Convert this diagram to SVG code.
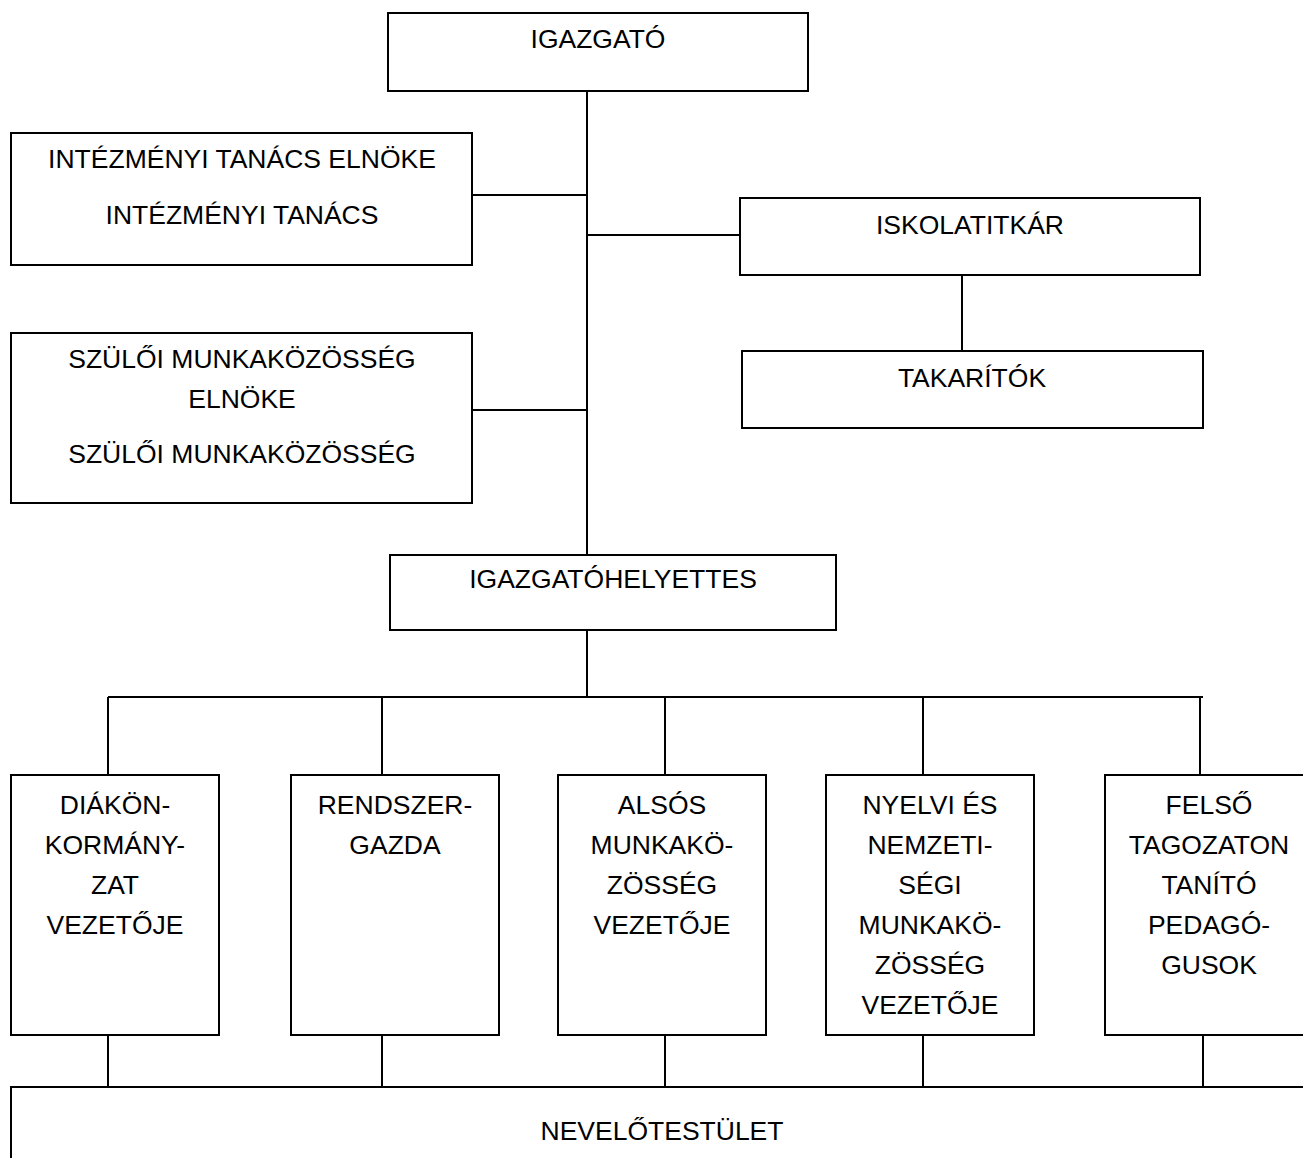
<svg xmlns="http://www.w3.org/2000/svg" width="1303" height="1158" viewBox="0 0 1303 1158">
<style>
  .box { fill: #ffffff; stroke: #000000; stroke-width: 2; }
  .ln { fill: none; stroke: #000000; stroke-width: 2; }
  text { font-family: "Liberation Sans", Arial, sans-serif; font-size: 26.5px; fill: #000000; text-anchor: middle; }
</style>
<rect x="0" y="0" width="1303" height="1158" fill="#ffffff"/>
<g id="connectors">
  <path class="ln" d="M587 91 V555"/>
  <path class="ln" d="M472 195 H587"/>
  <path class="ln" d="M587 235 H740"/>
  <path class="ln" d="M962 275 V351"/>
  <path class="ln" d="M472 410 H587"/>
  <path class="ln" d="M587 630 V697"/>
  <path class="ln" d="M108 697 H1203"/>
  <path class="ln" d="M108 697 V775 M382 697 V775 M665 697 V775 M923 697 V775 M1200 697 V775"/>
  <path class="ln" d="M108 1035 V1087 M382 1035 V1087 M665 1035 V1087 M923 1035 V1087 M1203 1035 V1087"/>
</g>
<g id="igazgato">
  <rect class="box" x="388" y="13" width="420" height="78"/>
  <text x="598" y="48">IGAZGATÓ</text>
</g>
<g id="intezmenyi-tanacs">
  <rect class="box" x="11" y="133" width="461" height="132"/>
  <text x="242" y="168">INTÉZMÉNYI TANÁCS ELNÖKE</text>
  <text x="242" y="224">INTÉZMÉNYI TANÁCS</text>
</g>
<g id="iskolatitkar">
  <rect class="box" x="740" y="198" width="460" height="77"/>
  <text x="970" y="234">ISKOLATITKÁR</text>
</g>
<g id="takaritok">
  <rect class="box" x="742" y="351" width="461" height="77"/>
  <text x="972" y="387">TAKARÍTÓK</text>
</g>
<g id="szuloi-munkakozosseg">
  <rect class="box" x="11" y="333" width="461" height="170"/>
  <text x="242" y="368">SZÜLŐI MUNKAKÖZÖSSÉG</text>
  <text x="242" y="408">ELNÖKE</text>
  <text x="242" y="463">SZÜLŐI MUNKAKÖZÖSSÉG</text>
</g>
<g id="igazgatohelyettes">
  <rect class="box" x="390" y="555" width="446" height="75"/>
  <text x="613" y="588">IGAZGATÓHELYETTES</text>
</g>
<g id="diakonkormanyzat">
  <rect class="box" x="11" y="775" width="208" height="260"/>
  <text x="115" y="814">DIÁKÖN-</text>
  <text x="115" y="854">KORMÁNY-</text>
  <text x="115" y="894">ZAT</text>
  <text x="115" y="934">VEZETŐJE</text>
</g>
<g id="rendszergazda">
  <rect class="box" x="291" y="775" width="208" height="260"/>
  <text x="395" y="814">RENDSZER-</text>
  <text x="395" y="854">GAZDA</text>
</g>
<g id="alsos">
  <rect class="box" x="558" y="775" width="208" height="260"/>
  <text x="662" y="814">ALSÓS</text>
  <text x="662" y="854">MUNKAKÖ-</text>
  <text x="662" y="894">ZÖSSÉG</text>
  <text x="662" y="934">VEZETŐJE</text>
</g>
<g id="nyelvi">
  <rect class="box" x="826" y="775" width="208" height="260"/>
  <text x="930" y="814">NYELVI ÉS</text>
  <text x="930" y="854">NEMZETI-</text>
  <text x="930" y="894">SÉGI</text>
  <text x="930" y="934">MUNKAKÖ-</text>
  <text x="930" y="974">ZÖSSÉG</text>
  <text x="930" y="1014">VEZETŐJE</text>
</g>
<g id="felso">
  <rect class="box" x="1105" y="775" width="208" height="260"/>
  <text x="1209" y="814">FELSŐ</text>
  <text x="1209" y="854">TAGOZATON</text>
  <text x="1209" y="894">TANÍTÓ</text>
  <text x="1209" y="934">PEDAGÓ-</text>
  <text x="1209" y="974">GUSOK</text>
</g>
<g id="nevelotestulet">
  <rect class="box" x="11" y="1087" width="1310" height="100"/>
  <text x="662" y="1140">NEVELŐTESTÜLET</text>
</g>
</svg>
